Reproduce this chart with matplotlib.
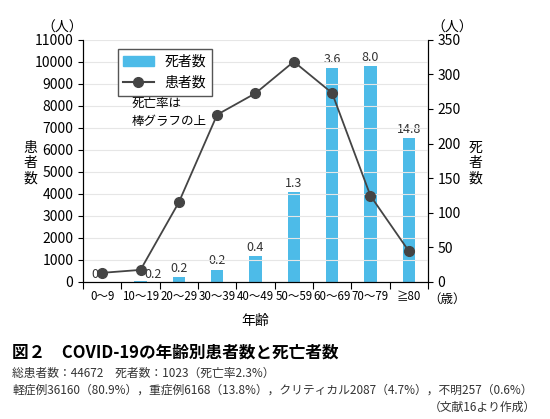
import matplotlib.pyplot as plt
import numpy as np
from matplotlib.patches import Patch
from matplotlib.lines import Line2D

plt.rcParams['font.family'] = ['Noto Sans CJK JP', 'DejaVu Sans']

ages = ["0～9", "10～19", "20～29", "30～39", "40～49", "50～59", "60～69", "70～79", "≧80"]
patients = [416, 549, 3619, 7600, 8571, 10008, 8583, 3918, 1408]
deaths = [0, 1, 7, 18, 38, 130, 309, 312, 208]
rates = ["0", "0.2", "0.2", "0.2", "0.4", "1.3", "3.6", "8.0", "14.8"]

blue = "#4dbbe8"
line_c = "#444444"

fig = plt.figure(figsize=(5.5, 4.19), dpi=100)
ax = fig.add_axes([0.151, 0.327, 0.627, 0.578])
ax2 = ax.twinx()

x = np.arange(len(ages))
ax2.bar(x, deaths, width=0.32, color=blue, zorder=2)
ax.plot(x, patients, color=line_c, marker="o", markersize=7, lw=1.3, zorder=5)
ax.set_zorder(ax2.get_zorder() + 1)
ax.patch.set_visible(False)

for i, r in enumerate(rates):
    if i == 0:
        ax2.text(i - 0.2, 2, r, ha="center", va="bottom", fontsize=9, color="#333")
    elif i == 1:
        ax2.text(i + 0.32, 2, r, ha="center", va="bottom", fontsize=9, color="#333")
    else:
        ax2.text(i, deaths[i] + 3, r, ha="center", va="bottom", fontsize=9, color="#333")

ax.set_xlim(-0.5, len(ages) - 0.5)
ax.set_ylim(0, 11000)
ax2.set_ylim(0, 350)
ax.set_yticks(range(0, 11001, 1000))
ax2.set_yticks(range(0, 351, 50))
ax.set_xticks(np.arange(-0.5, len(ages), 1))
ax.set_xticklabels([])
ax.set_xticks(x, minor=True)
ax.set_xticklabels(ages, minor=True)
ax.tick_params(axis="x", which="minor", length=0, labelsize=8.3, pad=6)
ax.tick_params(axis="x", which="major", length=5, direction="out")
ax.tick_params(axis="y", labelsize=10)
ax2.tick_params(axis="y", labelsize=10)
ax.grid(axis="y", color="#e6e6e6", lw=0.8)
ax.set_axisbelow(True)
for a in (ax, ax2):
    a.spines["top"].set_visible(False)
ax.text(1.0, -0.045, "（歳）", transform=ax.transAxes, ha="left", va="top", fontsize=9)
ax.text(-0.06, 1.02, "（人）", transform=ax.transAxes, ha="center", va="bottom", fontsize=10)
ax.text(1.07, 1.02, "（人）", transform=ax.transAxes, ha="center", va="bottom", fontsize=10)
fig.text(0.055, 0.61, "患\n者\n数", ha="center", va="center", fontsize=10, linespacing=1.1)
fig.text(0.865, 0.61, "死\n者\n数", ha="center", va="center", fontsize=10, linespacing=1.1)
ax.set_xlabel("年齢", fontsize=10, labelpad=8)

handles = [Patch(color=blue), Line2D([], [], color=line_c, marker="o", markersize=7)]
leg = ax.legend(handles, ["死者数", "患者数"], loc="upper left", bbox_to_anchor=(0.1, 0.96),
                fancybox=False, edgecolor="#555", fontsize=10, handlelength=2.2,
                borderaxespad=0, framealpha=1)
ax.text(0.14, 0.70, "死亡率は\n棒グラフの上", transform=ax.transAxes, fontsize=9, va="center",
        linespacing=1.5)

fig.text(0.022, 0.158, "図２　COVID-19の年齢別患者数と死亡者数", fontsize=12, fontweight="bold", va="center")
fig.text(0.022, 0.110, "総患者数：44672　死者数：1023（死亡率2.3%）", fontsize=8.5, va="center", color="#333")
fig.text(0.022, 0.068, "軽症例36160（80.9%），重症例6168（13.8%），クリティカル2087（4.7%），不明257（0.6%）",
         fontsize=8.5, va="center", color="#333")
fig.text(0.975, 0.028, "（文献16より作成）", fontsize=8.5, va="center", ha="right", color="#333")

fig.savefig("out.png", dpi=100)
